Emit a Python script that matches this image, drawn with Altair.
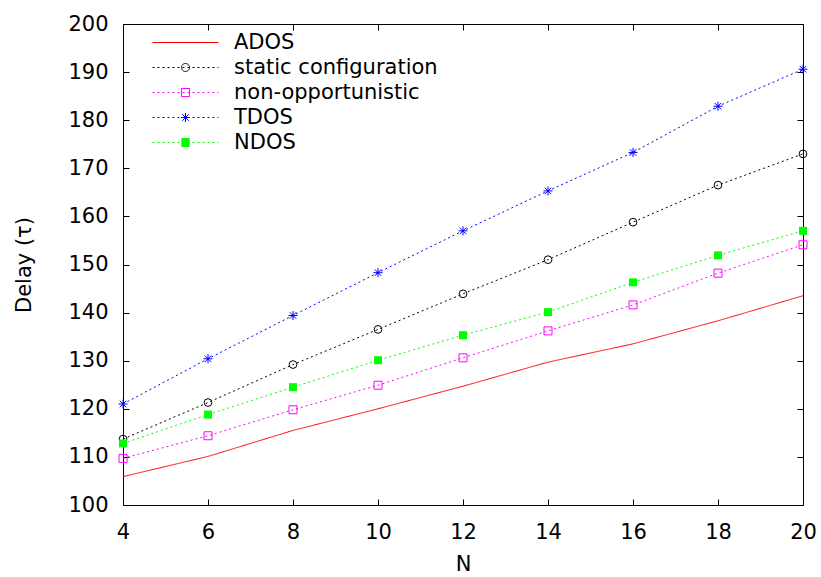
import altair as alt
import pandas as pd

# ---- data ----
N = [4, 6, 8, 10, 12, 14, 16, 18, 20]
series_names = ["ADOS", "static configuration", "non-opportunistic", "TDOS", "NDOS"]
ados = [105.9, 110.1, 115.5, 120.0, 124.7, 129.7, 133.5, 138.3, 143.5]
static_cfg = [113.7, 121.3, 129.2, 136.5, 143.9, 151.0, 158.8, 166.5, 173.0]
non_opp = [109.7, 114.4, 119.8, 124.9, 130.6, 136.2, 141.6, 148.2, 154.1]
tdos = [121.0, 130.4, 139.4, 148.3, 157.0, 165.3, 173.3, 182.9, 190.6]
ndos = [112.8, 118.8, 124.5, 130.1, 135.3, 140.1, 146.3, 151.9, 157.0]
x_ticks = [4, 6, 8, 10, 12, 14, 16, 18, 20]
y_ticks = [100, 110, 120, 130, 140, 150, 160, 170, 180, 190, 200]

colors = ["#ff0000", "#000000", "#ff00ff", "#0000ff", "#00ff00"]
dashes = [[1, 0], [2, 3], [2, 3], [2, 3], [2, 3]]

rows = []
for name, vals in zip(series_names, [ados, static_cfg, non_opp, tdos, ndos]):
    for n, v in zip(N, vals):
        rows.append({"N": n, "delay": v, "series": name})
df = pd.DataFrame(rows)

FONT = "DejaVu Sans"
FS = 21

# ---- legend symbol paths (line sample + marker), unit = 12 px ----
U = 12.0
def f(v):
    return f"{v / U:.3f}"

def dotted_line():
    parts = []
    x = -33.0
    while x < 33:
        parts.append(f"M{f(x)},0L{f(min(x + 2, 33))},0")
        x += 5.0
    return "".join(parts)

def circle_path(r=4.0, n=24):
    import math
    pts = [(r * math.cos(2 * math.pi * i / n), r * math.sin(2 * math.pi * i / n)) for i in range(n + 1)]
    return "M" + "L".join(f"{f(a)},{f(b)}" for a, b in pts)

def square_path(h=4.0):
    return f"M{f(-h)},{f(-h)}L{f(h)},{f(-h)}L{f(h)},{f(h)}L{f(-h)},{f(h)}Z"

def star_path(h=4.5):
    d = h * 0.72
    return (f"M{f(-h)},0L{f(h)},0M0,{f(-h)}L0,{f(h)}"
            f"M{f(-d)},{f(-d)}L{f(d)},{f(d)}M{f(-d)},{f(d)}L{f(d)},{f(-d)}")

def filled_square_path(h=4.0):
    parts = []
    y = -h
    while y <= h + 1e-6:
        parts.append(f"M{f(-h)},{f(y)}L{f(h)},{f(y)}")
        y += 0.5
    return "".join(parts)

legend_shapes = [
    "M-2.75,0L2.75,0",
    dotted_line() + circle_path(),
    dotted_line() + square_path(),
    dotted_line() + star_path(),
    dotted_line() + filled_square_path(),
]

star_marker = "M-1,0L1,0M0,-1L0,1M-0.72,-0.72L0.72,0.72M-0.72,0.72L0.72,-0.72"

xscale = alt.Scale(domain=[4, 20], nice=False, zero=False)
yscale = alt.Scale(domain=[100, 200], nice=False, zero=False)

# plot scales use a sorted domain so they are kept apart from the legend's scales
sorted_names = sorted(series_names)
color_of = dict(zip(series_names, colors))
dash_of = dict(zip(series_names, dashes))
cscale = alt.Scale(domain=sorted_names, range=[color_of[s] for s in sorted_names])
dscale = alt.Scale(domain=sorted_names, range=[dash_of[s] for s in sorted_names])

x_main = alt.X("N:Q", scale=xscale, axis=alt.Axis(
    orient="bottom", values=x_ticks, offset=-6, tickSize=6, tickColor="black", tickWidth=1,
    domain=False, grid=False, labelFont=FONT, labelFontSize=FS, labelColor="black",
    labelPadding=16, title="N", titleFont=FONT, titleFontSize=FS, titleFontWeight="normal",
    titleColor="black", titlePadding=11, labelFlush=False))
y_main = alt.Y("delay:Q", scale=yscale, axis=alt.Axis(
    orient="left", values=y_ticks, offset=-6, tickSize=6, tickColor="black", tickWidth=1,
    domain=False, grid=False, labelFont=FONT, labelFontSize=FS, labelColor="black",
    labelPadding=15, title="Delay (τ)", titleFont=FONT, titleFontSize=FS,
    titleFontWeight="normal", titleColor="black", titlePadding=33))

x_none = alt.X("N:Q", scale=xscale, axis=None)
y_none = alt.Y("delay:Q", scale=yscale, axis=None)

x_top = alt.X("N:Q", scale=xscale, axis=alt.Axis(
    orient="top", values=x_ticks, offset=-6, tickSize=6, tickColor="black", tickWidth=1,
    domain=False, grid=False, labels=False, title=None))
y_right = alt.Y("delay:Q", scale=yscale, axis=alt.Axis(
    orient="right", values=y_ticks, offset=-6, tickSize=6, tickColor="black", tickWidth=1,
    domain=False, grid=False, labels=False, title=None))

color_enc = alt.Color("series:N", scale=cscale, legend=None)

lines = alt.Chart(df).mark_line(strokeWidth=1).encode(
    x=x_main, y=y_main, color=color_enc,
    strokeDash=alt.StrokeDash("series:N", scale=dscale, legend=None),
    detail="series:N",
)

circles = alt.Chart(df).transform_filter(alt.datum.series == "static configuration").mark_point(
    shape="circle", filled=False, size=60, strokeWidth=1, opacity=1
).encode(x=x_top, y=y_right, color=color_enc)

open_squares = alt.Chart(df).transform_filter(alt.datum.series == "non-opportunistic").mark_point(
    shape="square", filled=False, size=64, strokeWidth=1, opacity=1
).encode(x=x_none, y=y_none, color=color_enc)

stars = alt.Chart(df).transform_filter(alt.datum.series == "TDOS").mark_point(
    shape=star_marker, filled=False, size=81, strokeWidth=1, opacity=1
).encode(x=x_none, y=y_none, color=color_enc)

filled_squares = alt.Chart(df).transform_filter(alt.datum.series == "NDOS").mark_point(
    shape="square", filled=True, size=64, strokeWidth=0, opacity=1
).encode(x=x_none, y=y_none, color=color_enc)

leg = alt.Legend(
    title=None, orient="none", legendX=29, legendY=6, padding=0,
    symbolSize=576, symbolStrokeWidth=1, symbolOffset=21, labelOffset=36,
    labelFont=FONT, labelFontSize=FS, labelColor="black", labelLimit=400, rowPadding=2,
    symbolOpacity=1,
)

# legend-only layer: its marks sit outside the y domain and are clipped away
legend_layer = alt.Chart(df).transform_calculate(hidden="1000").mark_point(
    filled=False, size=576, strokeWidth=1, opacity=1, clip=True
).encode(
    x=x_none, y=alt.Y("hidden:Q", scale=yscale, axis=None),
    stroke=alt.Stroke("series:N", scale=alt.Scale(domain=series_names, range=colors), legend=leg),
    shape=alt.Shape("series:N", scale=alt.Scale(domain=series_names, range=legend_shapes), legend=leg),
)

chart = alt.layer(lines, circles, open_squares, stars, filled_squares, legend_layer).properties(
    width=680, height=481,
    autosize=alt.AutoSizeParams(type="none"),
    padding={"left": 123, "top": 24, "right": 18, "bottom": 72},
    background="white",
).configure_view(stroke="black", strokeWidth=1)

chart.save("out.html", embed_options={"renderer": "svg", "actions": False})
